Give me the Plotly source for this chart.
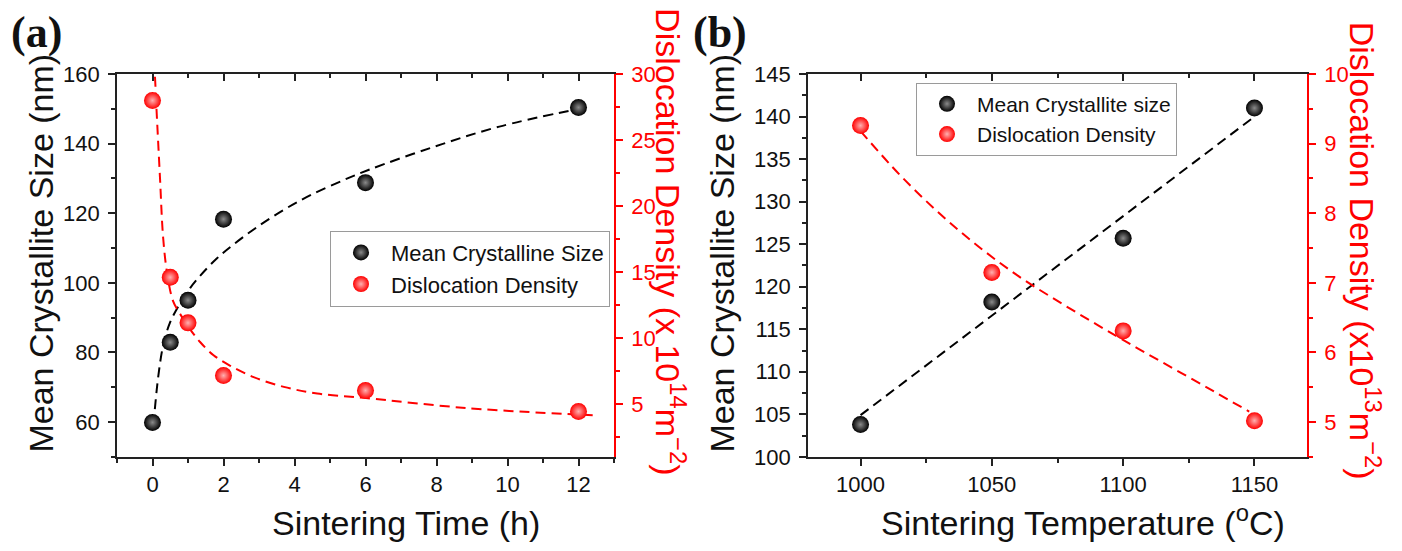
import plotly.graph_objects as go

W, H = 1402, 551

# ---------------- data: panel (a) ----------------
a_time = [0, 0.5, 1, 2, 6, 12]
a_size = [59.9, 82.9, 95.0, 118.3, 128.8, 150.4]
a_disl = [28.0, 14.6, 11.15, 7.16, 6.03, 4.44]

# fitted dashed curves
a_fit_size_x = [0.066, 0.16, 0.30, 0.49, 0.77, 1.06, 1.34, 1.81, 2.28, 2.94, 3.70, 4.45, 5.40, 6.15, 7.9, 9.77, 12.0]
a_fit_size_y = [63.7, 72.9, 82.0, 88.5, 94.0, 98.5, 102.0, 107.0, 111.0, 116.0, 121.0, 125.2, 129.6, 132.7, 139.0, 144.9, 150.0]
a_fit_disl_x = [0.04, 0.066, 0.11, 0.21, 0.30, 0.42, 0.58, 0.77, 1.06, 1.34, 1.72, 2.19, 2.85, 3.70, 4.64, 5.96, 8.84, 12.0, 12.4]
a_fit_disl_y = [31.0, 30.0, 27.5, 22.2, 17.6, 14.76, 12.8, 11.86, 10.66, 9.7, 8.7, 7.9, 7.04, 6.3, 5.8, 5.47, 4.7, 4.2, 4.15]

# ---------------- data: panel (b) ----------------
b_temp = [1000, 1050, 1100, 1150]
b_size = [103.8, 118.2, 125.7, 141.0]
b_disl = [9.26, 7.15, 6.31, 5.02]

b_fit_size_x = [1000, 1150]
b_fit_size_y = [104.9, 140.0]
b_fit_disl_x = [1000, 1015, 1030, 1045, 1060, 1075, 1090, 1105, 1120, 1135, 1148]
b_fit_disl_y = [9.18, 8.55, 8.00, 7.52, 7.10, 6.74, 6.40, 6.07, 5.75, 5.43, 5.15]

FONT = "Liberation Sans, Arial, sans-serif"
RED = "#ff0000"
AX = "#222222"

def px(x):
    return x / W

def py(y):
    return (H - y) / H

fig = go.Figure()

black_marker = dict(size=17, color="#000000", gradient=dict(type="radial", color="#8a8a8a"), line=dict(width=0))
red_marker = dict(size=17, color="#ff0000", gradient=dict(type="radial", color="#ffb0b0"), line=dict(width=0))
dash = "10px,6px"

# panel (a)
fig.add_trace(go.Scatter(x=a_fit_size_x, y=a_fit_size_y, mode="lines", line=dict(color="#000000", width=2, dash=dash, shape="spline"),
                         xaxis="x", yaxis="y", showlegend=False, hoverinfo="skip"))
fig.add_trace(go.Scatter(x=a_fit_disl_x, y=a_fit_disl_y, mode="lines", line=dict(color=RED, width=2, dash=dash, shape="spline"),
                         xaxis="x", yaxis="y2", showlegend=False, hoverinfo="skip"))
fig.add_trace(go.Scatter(x=a_time, y=a_size, mode="markers", marker=black_marker, name="Mean Crystalline Size",
                         xaxis="x", yaxis="y", legend="legend"))
fig.add_trace(go.Scatter(x=a_time, y=a_disl, mode="markers", marker=red_marker, name="Dislocation Density",
                         xaxis="x", yaxis="y2", legend="legend"))
fig.add_trace(go.Scatter(x=[], y=[], xaxis="x3", yaxis="y", showlegend=False, hoverinfo="skip"))

# panel (b)
fig.add_trace(go.Scatter(x=b_fit_size_x, y=b_fit_size_y, mode="lines", line=dict(color="#000000", width=2, dash=dash),
                         xaxis="x2", yaxis="y3", showlegend=False, hoverinfo="skip"))
fig.add_trace(go.Scatter(x=b_fit_disl_x, y=b_fit_disl_y, mode="lines", line=dict(color=RED, width=2, dash=dash, shape="spline"),
                         xaxis="x2", yaxis="y4", showlegend=False, hoverinfo="skip"))
fig.add_trace(go.Scatter(x=b_temp, y=b_size, mode="markers", marker=black_marker, name="Mean Crystallite size",
                         xaxis="x2", yaxis="y3", legend="legend2"))
fig.add_trace(go.Scatter(x=b_temp, y=b_disl, mode="markers", marker=red_marker, name="Dislocation Density",
                         xaxis="x2", yaxis="y4", legend="legend2"))
fig.add_trace(go.Scatter(x=[], y=[], xaxis="x4", yaxis="y3", showlegend=False, hoverinfo="skip"))

ydom = [py(466), py(65)]
xa_dom = [px(117), px(614)]
xb_dom = [px(808), px(1307)]

tickfont = dict(family=FONT, size=22, color="#111111")
redfont = dict(family=FONT, size=22, color=RED)
LW = 1.8

def xax(dom, rng, dtick, tick0, mdtick, anchor):
    return dict(domain=dom, range=rng, dtick=dtick, tick0=tick0, ticks="outside", ticklen=7, tickwidth=LW,
                tickcolor=AX, showline=True, linecolor=AX, linewidth=LW, mirror=True, showgrid=False,
                zeroline=False, tickfont=tickfont, anchor=anchor,
                minor=dict(dtick=mdtick, ticks="outside", ticklen=4, tickwidth=LW, tickcolor=AX, showgrid=False))

def topax(rng, dtick, tick0, mdtick, overlay, anchor):
    return dict(overlaying=overlay, side="top", anchor=anchor, range=rng, dtick=dtick, tick0=tick0,
                ticks="inside", ticklen=7, tickwidth=LW, tickcolor=AX, showticklabels=False, showline=False,
                showgrid=False, zeroline=False,
                minor=dict(dtick=mdtick, ticks="inside", ticklen=4, tickwidth=LW, tickcolor=AX, showgrid=False))

def yax(rng, dtick, tick0, mdtick, anchor):
    return dict(domain=ydom, range=rng, dtick=dtick, tick0=tick0, ticks="outside", ticklen=7, tickwidth=LW,
                tickcolor=AX, showline=True, linecolor=AX, linewidth=LW, mirror=False, showgrid=False,
                zeroline=False, tickfont=tickfont, anchor=anchor, ticklabelstandoff=4,
                minor=dict(dtick=mdtick, ticks="outside", ticklen=4, tickwidth=LW, tickcolor=AX, showgrid=False))

def yrax(rng, dtick, tick0, mdtick, overlay, anchor):
    return dict(overlaying=overlay, side="right", anchor=anchor, range=rng, dtick=dtick, tick0=tick0,
                ticks="outside", ticklen=7, tickwidth=LW, tickcolor=RED, showline=True, linecolor=RED,
                linewidth=LW, showgrid=False, zeroline=False, tickfont=redfont, ticklabelstandoff=4,
                minor=dict(dtick=mdtick, ticks="outside", ticklen=4, tickwidth=LW, tickcolor=RED, showgrid=False))

legend_common = dict(xanchor="left", yanchor="top", bordercolor="#9a9a9a", borderwidth=1, bgcolor="white",
                     itemwidth=50, tracegroupgap=0)

fig.update_layout(
    width=W, height=H, autosize=False,
    margin=dict(l=0, r=0, t=0, b=0),
    paper_bgcolor="white", plot_bgcolor="white",
    font=dict(family=FONT, color="#111111"),
    xaxis=xax(xa_dom, [-1, 13], 2, 0, 1, "y"),
    yaxis=yax([50, 160], 20, 0, 10, "x"),
    yaxis2=yrax([1, 30], 5, 0, 2.5, "y", "x"),
    xaxis3=topax([-1, 13], 2, 0, 1, "x", "y"),
    xaxis2=xax(xb_dom, [980, 1170], 50, 1000, 25, "y3"),
    yaxis3=yax([100, 145], 5, 100, 2.5, "x2"),
    yaxis4=yrax([4.5, 10], 1, 0, 0.5, "y3", "x2"),
    xaxis4=topax([980, 1170], 50, 1000, 25, "x2", "y3"),
    legend=dict(x=px(330), y=py(229), font=dict(family=FONT, size=22, color="#111111"), **legend_common),
    legend2=dict(x=px(916), y=py(74), font=dict(family=FONT, size=21, color="#111111"), **legend_common),
    showlegend=True,
)

TF = 34
ann = [
    dict(text="<b>(a)</b>", x=px(9), y=py(21), xanchor="left", yanchor="middle",
         font=dict(family="Liberation Serif, Times New Roman, serif", size=44, color="#111111")),
    dict(text="<b>(b)</b>", x=px(691), y=py(21), xanchor="left", yanchor="middle",
         font=dict(family="Liberation Serif, Times New Roman, serif", size=44, color="#111111")),
    dict(text="Mean Crystallite Size (nm)", x=px(41), y=py(253), textangle=-90,
         font=dict(family=FONT, size=TF, color="#111111")),
    dict(text="Mean Crystallite Size (nm)", x=px(722), y=py(253), textangle=-90,
         font=dict(family=FONT, size=TF, color="#111111")),
    dict(text="Dislocation Density (x 10<sup>14</sup>m<sup>\u22122</sup>)", x=px(671), y=py(240), textangle=90,
         font=dict(family=FONT, size=TF, color=RED)),
    dict(text="Dislocation Density (x10<sup>13</sup>m<sup>\u22122</sup>)", x=px(1365), y=py(250), textangle=90,
         font=dict(family=FONT, size=TF, color=RED)),
    dict(text="Sintering Time (h)", x=px(406), y=py(535),
         font=dict(family=FONT, size=TF, color="#111111")),
    dict(text="Sintering Temperature (<sup>o</sup>C)", x=px(1083), y=py(533),
         font=dict(family=FONT, size=TF, color="#111111")),
]
for a in ann:
    a.update(xref="paper", yref="paper", showarrow=False)
    a.setdefault("xanchor", "center")
    a.setdefault("yanchor", "middle")
fig.update_layout(annotations=ann)

fig.write_html("out.html")
